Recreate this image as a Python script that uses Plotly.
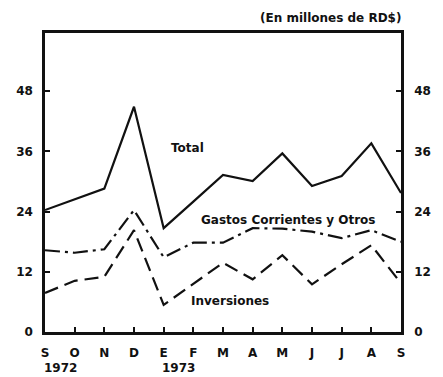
import plotly.graph_objects as go

# Monthly series, September 1972 - September 1973 (millions of RD$)
months = ["S", "O", "N", "D", "E", "F", "M", "A", "M", "J", "J", "A", "S"]
total = [24.3, 26.4, 28.6, 44.9, 20.7, 26.0, 31.3, 30.1, 35.6, 29.1, 31.1, 37.6, 27.7]
gastos = [16.3, 15.8, 16.5, 24.3, 14.9, 17.8, 17.8, 20.7, 20.6, 20.0, 18.7, 20.3, 18.0]
inversiones = [7.8, 10.2, 11.0, 20.3, 5.4, 9.6, 13.8, 10.5, 15.3, 9.5, 13.5, 17.3, 9.7]
y_ticks = [0, 12, 24, 36, 48]

x = list(range(len(months)))
ink = "#111111"
font = dict(family="DejaVu Sans", size=12, color=ink, weight="bold")

fig = go.Figure()
fig.add_trace(go.Scatter(x=x, y=total, mode="lines",
                         line=dict(color=ink, width=2.2)))
fig.add_trace(go.Scatter(x=x, y=gastos, mode="lines",
                         line=dict(color=ink, width=2.2, dash="15px,5px,3px,5px")))
fig.add_trace(go.Scatter(x=x, y=inversiones, mode="lines",
                         line=dict(color=ink, width=2.2, dash="14px,7px")))
# invisible trace so the right-hand scale is drawn
fig.add_trace(go.Scatter(x=[0], y=[0], yaxis="y2", mode="markers",
                         marker=dict(opacity=0), hoverinfo="skip"))

yr = [0, 59.6]
fig.update_layout(
    width=443, height=377,
    margin=dict(l=45, r=34, t=33, b=45),
    paper_bgcolor="white", plot_bgcolor="white",
    showlegend=False,
    font=font,
    xaxis=dict(range=[0, 12], tickvals=x, ticktext=months,
               showgrid=False, zeroline=False,
               showline=True, mirror=True, linecolor=ink, linewidth=2.5,
               ticks="inside", ticklen=5, tickwidth=2, tickcolor=ink,
               ticklabelstandoff=8, tickfont=font),
    yaxis=dict(range=yr, tickvals=y_ticks, showgrid=False, zeroline=False,
               showline=True, linecolor=ink, linewidth=2.5,
               ticks="inside", ticklen=5, tickwidth=2, tickcolor=ink,
               ticklabelstandoff=7, tickfont=font),
    yaxis2=dict(range=yr, tickvals=y_ticks, overlaying="y", side="right",
                showgrid=False, zeroline=False,
                showline=True, linecolor=ink, linewidth=2.5,
                ticks="inside", ticklen=5, tickwidth=2, tickcolor=ink,
                ticklabelstandoff=8, tickfont=font),
)

annotations = [
    dict(text="Total", x=4.81, y=36.6, xref="x", yref="y"),
    dict(text="Gastos Corrientes y Otros", x=8.21, y=22.3, xref="x", yref="y"),
    dict(text="Inversiones", x=6.23, y=6.2, xref="x", yref="y"),
    dict(text="1972", x=0.53, y=-0.12, xref="x", yref="paper"),
    dict(text="1973", x=4.5, y=-0.12, xref="x", yref="paper"),
    dict(text="(En millones de RD$)", x=1.005, y=1.05, xref="paper",
         yref="paper", xanchor="right"),
]
for a in annotations:
    a.setdefault("xanchor", "center")
    fig.add_annotation(showarrow=False, yanchor="middle", font=font, **a)

fig.write_html("out.html")
